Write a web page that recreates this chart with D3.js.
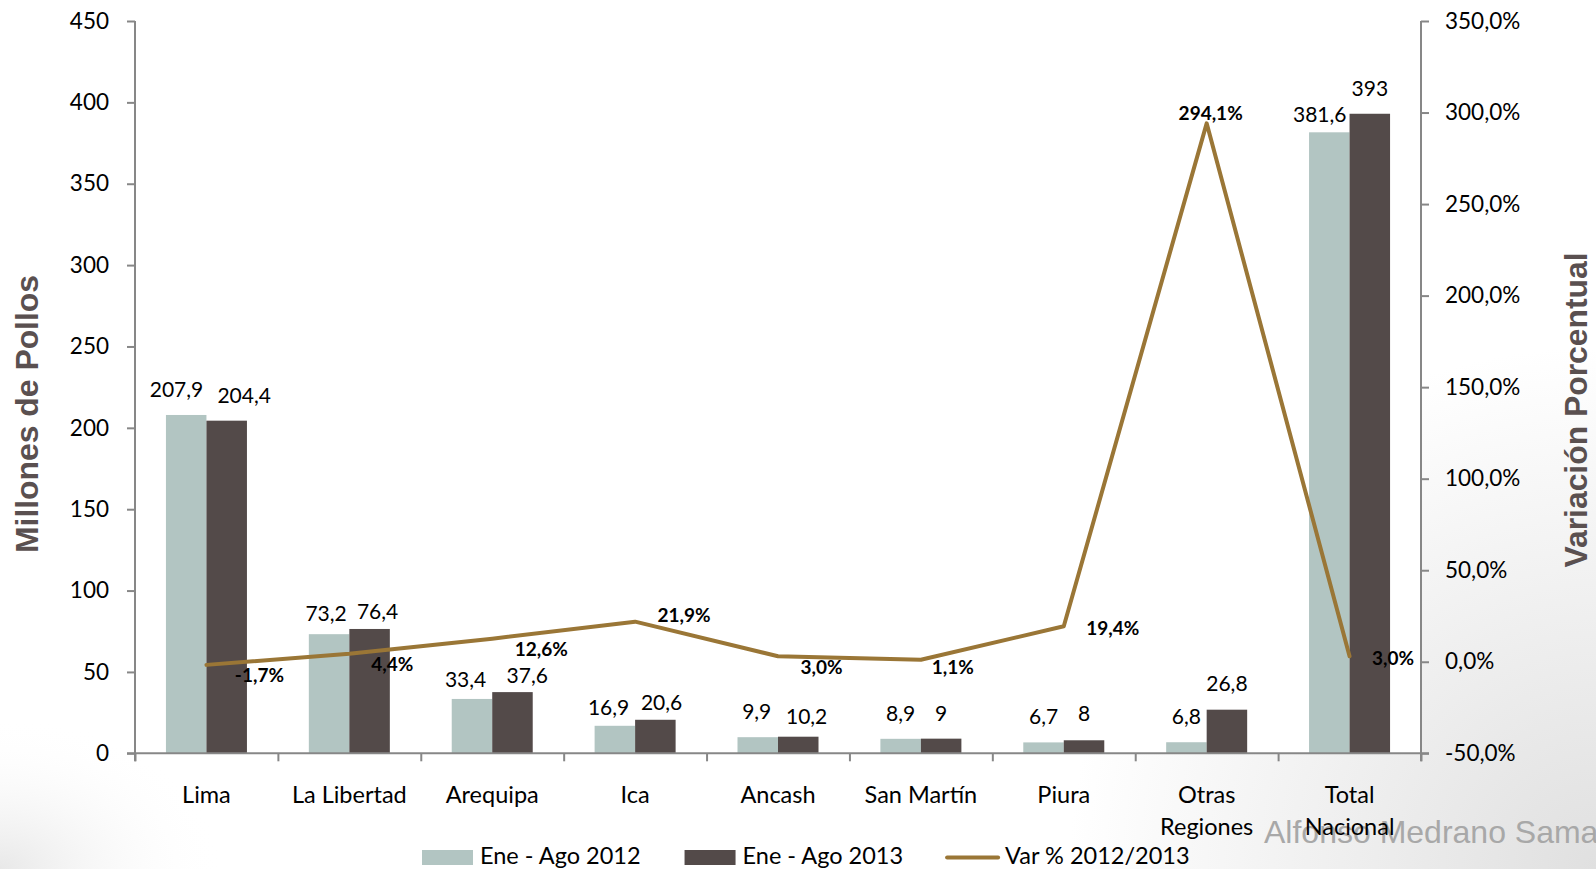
<!DOCTYPE html>
<html><head><meta charset="utf-8">
<script src="https://cdn.jsdelivr.net/npm/d3@7"></script>
<style>body{margin:0;background:#fff;} svg{display:block}</style>
</head><body><svg id="chart" width="1596" height="869"></svg>
<script>
// ---------- data ----------
const categories = ["Lima","La Libertad","Arequipa","Ica","Ancash","San Martín","Piura","Otras Regiones","Total Nacional"];
const categoryLines = [["Lima"],["La Libertad"],["Arequipa"],["Ica"],["Ancash"],["San Martín"],["Piura"],["Otras","Regiones"],["Total","Nacional"]];
const seriesNames = ["Ene - Ago 2012","Ene - Ago 2013"];
const values2012 = [207.9, 73.2, 33.4, 16.9, 9.9, 8.9, 6.7, 6.8, 381.6];
const values2013 = [204.4, 76.4, 37.6, 20.6, 10.2, 9, 8, 26.8, 393];
const lineName = "Var % 2012/2013";
const varPct = [-1.7, 4.4, 12.6, 21.9, 3.0, 1.1, 19.4, 294.1, 3.0];
const leftTicks = [0,50,100,150,200,250,300,350,400,450];
const rightTicks = [-50,0,50,100,150,200,250,300,350];
const leftTitle = "Millones de Pollos";
const rightTitle = "Variación Porcentual";
const watermark = "Alfonso Medrano Sama";

// ---------- layout / style ----------
const W = 1596, H = 869;
const P = {left:135, right:1421, top:21, bottom:753.3};
const colors = {c2012:"#b2c5c2", c2013:"#534a49", line:"#9a7636", axis:"#878787", title:"#5a5050"};
const FONT = "Lato, 'Open Sans', sans-serif";
// label placement tweaks (pixels)
const barLabelGap2012 = [18, 13, 12, 11, 18, 18, 18.6, 18.6, 10];
const barLabelGap2013 = [18, 10, 9, 10, 13, 18, 19, 19, 18];
const barLabelDx2012 = [-9.7, -3, -6.4, -6.3, -1, 0, 0, 0, -9.6];
const barLabelDx2013 = [17.5, 8, 14.8, 6.2, 8.4, 0, 0, 0, 0];
const varLabelOffsets = [[53,10],[43,10],[49,10],[49,-7],[43.5,11],[32,7.5],[49,2],[4,-10],[43.5,1.5]];

const locale = d3.formatLocale({decimal:",", thousands:".", grouping:[3], currency:["",""], minus:"-"});
const fmtPct = v => locale.format(".1f")(v) + "%";
const fmtVal = v => String(v).replace(".", ",");

const svg = d3.select("#chart");
const defs = svg.append("defs");
const g1 = defs.append("radialGradient").attr("id","bgR").attr("cx",1).attr("cy",1).attr("r",0.6);
g1.append("stop").attr("offset","0%").attr("stop-color","#e0e0e0");
g1.append("stop").attr("offset","100%").attr("stop-color","#ffffff");
const g2 = defs.append("radialGradient").attr("id","bgL").attr("cx",0).attr("cy",1).attr("r",0.35);
g2.append("stop").attr("offset","0%").attr("stop-color","#e8e8e8");
g2.append("stop").attr("offset","100%").attr("stop-color","#ffffff").attr("stop-opacity",0);

svg.append("rect").attr("width",W).attr("height",H).attr("fill","#fff");
svg.append("rect").attr("x",W*0.45).attr("y",0).attr("width",W*0.55).attr("height",H).attr("fill","url(#bgR)");
svg.append("rect").attr("x",0).attr("y",H*0.5).attr("width",W*0.4).attr("height",H*0.5).attr("fill","url(#bgL)");
svg.append("rect").attr("x",P.left).attr("y",P.top).attr("width",P.right-P.left).attr("height",P.bottom-P.top).attr("fill","#fff");

// scales
const x = d3.scaleBand().domain(categories).range([P.left, P.right]).padding(0);
const xs = d3.scaleBand().domain(seriesNames).range([0, x.bandwidth()]).paddingInner(0).paddingOuter(0.764);
const yL = d3.scaleLinear().domain([0,450]).range([P.bottom, P.top]);
const yR = d3.scaleLinear().domain([-50,350]).range([P.bottom, P.top]);
const xIdx = d3.scaleLinear().domain([0, categories.length]).range([P.left, P.right]);

// watermark (behind)
svg.append("text").attr("x",1264).attr("y",843).attr("font-family","'Liberation Sans', Arial, sans-serif")
  .attr("font-size",32).attr("fill","#a8a8a8").text(watermark);

// bars
const rows = categories.map((c,i)=>({c, i, v:[values2012[i], values2013[i]]}));
const barColors = [colors.c2012, colors.c2013];
const gaps = [barLabelGap2012, barLabelGap2013];
const dxs = [barLabelDx2012, barLabelDx2013];
rows.forEach(r=>{
  seriesNames.forEach((s,k)=>{
    const bx = x(r.c) + xs(s);
    svg.append("rect").attr("x",bx).attr("y",yL(r.v[k])).attr("width",xs.bandwidth())
      .attr("height",yL(0)-yL(r.v[k])).attr("fill",barColors[k]);
    svg.append("text").attr("x",bx+xs.bandwidth()/2+dxs[k][r.i]).attr("y",yL(r.v[k])-gaps[k][r.i])
      .attr("text-anchor","middle").attr("font-family",FONT).attr("font-size",21).attr("fill","#000")
      .text(fmtVal(r.v[k]));
  });
});

// axes
const axL = svg.append("g").attr("transform",`translate(${P.left},0)`)
  .call(d3.axisLeft(yL).tickValues(leftTicks).tickSize(8).tickPadding(18).tickFormat(d=>d));
const axR = svg.append("g").attr("transform",`translate(${P.right},0)`)
  .call(d3.axisRight(yR).tickValues(rightTicks).tickSize(8).tickPadding(16).tickFormat(fmtPct));
const axB = svg.append("g").attr("transform",`translate(0,${P.bottom})`)
  .call(d3.axisBottom(xIdx).tickValues(d3.range(categories.length+1)).tickSize(8).tickFormat(""));
[axL,axR,axB].forEach(a=>{
  a.selectAll("path.domain").attr("stroke",colors.axis).attr("stroke-width",2);
  a.selectAll(".tick line").attr("stroke",colors.axis).attr("stroke-width",2);
  a.selectAll(".tick text").attr("font-family",FONT).attr("font-size",22.5).attr("fill","#000");
});
axB.select("path.domain").attr("d",`M${P.left-8},0H${P.right+8}`);
axL.select("path.domain").attr("d",`M0,${P.top}V${P.bottom+8}`);
axR.select("path.domain").attr("d",`M0,${P.top}V${P.bottom+8}`);

// category labels
categories.forEach((c,i)=>{
  const t = svg.append("text").attr("text-anchor","middle").attr("font-family",FONT).attr("font-size",23.5).attr("fill","#000");
  categoryLines[i].forEach((ln,j)=>{
    t.append("tspan").attr("x",x(c)+x.bandwidth()/2).attr("y",803+j*32).text(ln);
  });
});

// line
const pts = categories.map((c,i)=>[x(c)+x.bandwidth()/2, yR(varPct[i])]);
svg.append("path").attr("d",d3.line()(pts)).attr("fill","none").attr("stroke",colors.line)
  .attr("stroke-width",4).attr("stroke-linejoin","round").attr("stroke-linecap","round");
pts.forEach((p,i)=>{
  svg.append("text").attr("x",p[0]+varLabelOffsets[i][0]).attr("y",p[1]+varLabelOffsets[i][1])
    .attr("dy","0.36em").attr("text-anchor","middle").attr("font-family",FONT).attr("font-weight","bold")
    .attr("font-size",19).attr("fill","#000").text(fmtPct(varPct[i]));
});

// axis titles
svg.append("text").attr("transform","translate(38,414) rotate(-90)").attr("text-anchor","middle")
  .attr("font-family","'Liberation Sans', Arial, sans-serif").attr("font-weight","bold").attr("font-size",32)
  .attr("fill",colors.title).attr("textLength",278).attr("lengthAdjust","spacingAndGlyphs").text(leftTitle);
svg.append("text").attr("transform","translate(1587,410) rotate(-90)").attr("text-anchor","middle")
  .attr("font-family","'Liberation Sans', Arial, sans-serif").attr("font-weight","bold").attr("font-size",32)
  .attr("fill",colors.title).attr("textLength",315).attr("lengthAdjust","spacingAndGlyphs").text(rightTitle);

// legend
const legendItems = [
  {name:seriesNames[0], type:"rect", color:colors.c2012},
  {name:seriesNames[1], type:"rect", color:colors.c2013},
  {name:lineName, type:"line", color:colors.line}
];
let lx = 422;
legendItems.forEach(it=>{
  if(it.type==="rect"){
    svg.append("rect").attr("x",lx).attr("y",850).attr("width",51).attr("height",15).attr("fill",it.color);
  } else {
    svg.append("line").attr("x1",lx).attr("x2",lx+51).attr("y1",857.5).attr("y2",857.5)
      .attr("stroke",it.color).attr("stroke-width",4).attr("stroke-linecap","round");
  }
  const t = svg.append("text").attr("x",lx+58).attr("y",864).attr("font-family",FONT).attr("font-size",23.5)
    .attr("fill","#000").text(it.name);
  lx = lx + 58 + t.node().getComputedTextLength() + 44;
});
</script></body></html>
